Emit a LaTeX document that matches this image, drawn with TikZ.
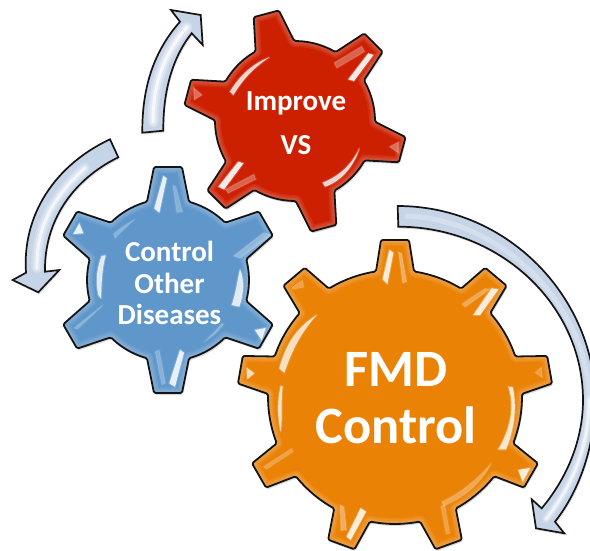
\documentclass[tikz,border=0pt]{standalone}
\usepackage{fontspec}
\setmainfont{Carlito}
\definecolor{gearred}{HTML}{CC2000}
\definecolor{gearblue}{HTML}{6097CB}
\definecolor{gearorange}{HTML}{EA8206}
\definecolor{arrowfill}{HTML}{C6D4E7}
\newcommand\addpol[3]{% angle, u, v ; uses \gcx \gcy
  \pgfmathsetmacro\gpx{\gcx+(#2)*cos(#1)-(#3)*sin(#1)}%
  \pgfmathsetmacro\gpy{\gcy+(#2)*sin(#1)+(#3)*cos(#1)}%
  \xdef\gp{\gp\ifx\gp\empty\else -- \fi(\gpx,\gpy)}%
}
\newcommand\buildgear[8]{% cx cy r R n t0 wt wb
  \gdef\gp{}%
  \def\gcx{#1}\def\gcy{#2}%
  \pgfmathsetmacro\gstep{360/#5}%
  \pgfmathsetmacro\gab{asin(#8/#3)}%
  \pgfmathsetmacro\gub{sqrt(#3*#3-#8*#8)}%
  \pgfmathtruncatemacro\gplast{#5-1}%
  \foreach \gi in {0,...,\gplast}{%
    \pgfmathsetmacro\ga{#6+\gi*\gstep}%
    \addpol{\ga}{\gub}{-#8}%
    \addpol{\ga}{#4}{-#7}%
    \addpol{\ga}{#4}{#7}%
    \addpol{\ga}{\gub}{#8}%
    \foreach \gj in {1,...,7}{%
      \pgfmathsetmacro\gs{\ga+\gab+(\gstep-2*\gab)*\gj/8}%
      \addpol{\gs}{#3}{0}%
    }%
  }%
  \xdef\gp{\gp -- cycle}%
}
\newcommand\glow{%
  \foreach \gw in {12,9,6,3}{\draw[white,opacity=.07,line width=\gw pt,line join=round] \gp;}%
}
\newcommand\hl[2]{%
  \draw[white,opacity=#1*.25,line width=2pt,line join=round] #2;
  \fill[white,opacity=#1] #2;
}
\tikzset{
  gearline/.style={draw=black!92,line width=1.8pt,line join=round,rounded corners=1.5pt},
  gearshadow/.style={fill=black,opacity=.14,rounded corners=1.5pt},
  arrowshape/.style={draw=black!92,line width=1.7pt,line join=miter,fill=arrowfill},
  gearlabel/.style={text=white,font=\bfseries,align=center,inner sep=0pt},
  zoomed/.style={x=.33333pt,y=-.33333pt}
}
\begin{document}
\begin{tikzpicture}[x=1pt,y=-1pt]
\useasboundingbox (0,0) rectangle (590,550);
% ---------- arrows
\def\arrowA{(142.3,132.7) .. controls (142,85) and (155,50) .. (180,21.7) -- (171,10) -- (200.7,15) -- (202.7,45) -- (191.7,33.3) .. controls (172,58) and (163,92) .. (163.3,130.7) -- cycle}
\def\arrowB{(110,139.3) .. controls (55,165) and (22,215) .. (26,272.7) -- (12.7,280) -- (38.3,292.3) -- (59.3,270) -- (45,271.7) .. controls (44,222) and (72,180) .. (118.3,157.3) -- cycle}
\def\arrowC{(397.7,206) .. controls (510,206) and (595,300) .. (595,400) .. controls (595,445) and (580,490) .. (555,521.7) -- (564.3,533.3) -- (536,528.3) -- (531.7,499.3) -- (541.7,508.3) .. controls (567,478) and (583,440) .. (583,400) .. controls (583,305) and (500,226.7) .. (398.3,226.7) -- cycle}
\foreach \ap in {\arrowA,\arrowB,\arrowC}{\fill[black,opacity=.12,shift={(1,2)}] \ap;}
\begin{scope}
  \clip \arrowA;
  \fill[arrowfill] \arrowA;
  \foreach \w/\o in {11/.25,7/.35,3/.7}{\draw[white,opacity=\o,line width=\w pt,line cap=round] (153,122) .. controls (153,85) and (163,55) .. (187,27);}
\end{scope}
\draw[arrowshape,fill=none] \arrowA;
\begin{scope}
  \clip \arrowB;
  \fill[arrowfill] \arrowB;
  \foreach \w/\o in {11/.2,7/.3,3/.65}{\draw[white,opacity=\o,line width=\w pt,line cap=round] (85,168) .. controls (55,195) and (36,225) .. (37,268);}
\end{scope}
\draw[arrowshape,fill=none] \arrowB;
\begin{scope}
  \clip \arrowC;
  \fill[arrowfill] \arrowC;
  \foreach \w/\o in {8/.2,5/.3,2.5/.6}{\draw[white,opacity=\o,line width=\w pt,line cap=round] (589,400) .. controls (589,445) and (573,485) .. (546,519);}
  \draw[white,opacity=.25,line width=5pt] (405,216) .. controls (500,218) and (589,305) .. (589,400);
\end{scope}
\draw[arrowshape,fill=none] \arrowC;
% ---------- blue gear
\buildgear{168}{280}{81}{113}{6}{-90}{14}{21}
\fill[gearshadow,shift={(1,2)}] \gp;
\begin{scope}
  \clip[rounded corners=1.5pt] \gp;
  \fill[gearblue] \gp;
  \glow
  \begin{scope}[shift={(0,130)},zoomed]
    \hl{.85}{(490,138) -- (500,145) -- (478,248) -- (463,235) -- cycle}
    \hl{.25}{(518,165) -- (528,170) -- (548,245) -- (530,248) -- cycle}
    \hl{.85}{(540,660) -- (552,668) -- (525,770) -- (508,760) -- cycle}
    \hl{.25}{(465,665) -- (478,660) -- (497,760) -- (485,765) -- cycle}
    \hl{.85}{(238,280) -- (250,310) -- (220,312) -- cycle}
    \hl{.85}{(765,600) -- (797,594) -- (785,630) -- cycle}
    \hl{.25}{(340,312) .. controls (360,295) and (380,280) .. (405,268) .. controls (385,285) and (365,305) .. (345,325) -- cycle}
    \hl{.8}{(305,378) -- (317,376) .. controls (305,420) and (305,460) .. (303,505) -- (295,495) .. controls (285,450) and (292,410) .. (305,378) -- cycle}
    \hl{.8}{(720,418) .. controls (735,450) and (730,495) .. (718,530) -- (695,525) .. controls (708,490) and (712,450) .. (720,418) -- cycle}
    \hl{.3}{(790,308) -- (815,315) -- (720,385) -- (700,378) -- cycle}
    \hl{.25}{(310,523) -- (300,535) -- (232,598) -- (222,594) -- cycle}
    \hl{.25}{(672,582) .. controls (655,605) and (635,622) .. (610,638) .. controls (630,618) and (650,600) .. (665,580) -- cycle}
  \end{scope}
\end{scope}
\draw[gearline] \gp;
% ---------- red gear
\buildgear{295}{121}{80}{111}{6}{-45}{13}{20}
\fill[gearshadow,shift={(1,2)}] \gp;
\begin{scope}
  \clip[rounded corners=1.5pt] \gp;
  \fill[gearred] \gp;
  \glow
  \begin{scope}[shift={(130,0)},zoomed]
    \hl{.8}{(300,275) .. controls (330,225) and (370,190) .. (418,172) .. controls (375,200) and (340,235) .. (310,285) -- cycle}
    \hl{.8}{(578,548) .. controls (625,530) and (665,495) .. (688,445) .. controls (672,500) and (632,545) .. (585,560) -- cycle}
    \hl{.9}{(715,160) -- (730,165) -- (672,243) -- (655,238) -- cycle}
    \hl{.3}{(695,138) -- (705,155) -- (620,205) -- (612,188) -- cycle}
    \hl{.9}{(325,485) -- (340,490) -- (282,568) -- (265,560) -- cycle}
    \hl{.3}{(372,522) -- (378,538) -- (295,580) -- (285,568) -- cycle}
    \hl{.35}{(190,262) -- (217,285) -- (192,300) -- cycle}
    \hl{.35}{(806,425) -- (778,440) -- (806,460) -- cycle}
  \end{scope}
\end{scope}
\draw[gearline] \gp;
% ---------- orange gear
\buildgear{395}{397}{127}{157}{9}{-90}{14}{19}
\fill[gearshadow,shift={(1,2)}] \gp;
\begin{scope}
  \clip[rounded corners=1.5pt] \gp;
  \fill[gearorange] \gp;
  \glow
  \begin{scope}[shift={(230,200)},zoomed]
    \hl{.75}{(148,505) .. controls (170,425) and (205,380) .. (260,345) .. controls (215,395) and (188,445) .. (163,518) -- cycle}
    \hl{.75}{(152,558) .. controls (142,600) and (142,650) .. (152,695) .. controls (158,650) and (152,600) .. (158,560) -- cycle}
    \hl{.8}{(835,560) .. controls (856,620) and (840,690) .. (805,748) -- (828,748) .. controls (852,690) and (862,620) .. (848,562) -- cycle}
    \hl{.3}{(635,905) .. controls (690,880) and (740,840) .. (785,788) .. controls (755,850) and (700,895) .. (640,918) -- cycle}
    \hl{.85}{(478,150) -- (490,158) -- (472,252) -- (458,238) -- cycle}
    \hl{.35}{(505,155) -- (515,160) -- (530,245) -- (518,250) -- cycle}
    \hl{.85}{(785,265) -- (805,268) -- (750,345) -- (730,345) -- cycle}
    \hl{.3}{(765,265) -- (780,268) -- (705,322) -- (695,312) -- cycle}
    \hl{.7}{(50,503) -- (73,520) -- (52,537) -- cycle}
    \hl{.25}{(185,262) -- (218,240) -- (222,262) -- (190,268) -- cycle}
    \hl{.25}{(935,500) -- (915,518) -- (938,535) -- cycle}
    \hl{.85}{(865,810) -- (900,804) -- (878,845) -- cycle}
    \hl{.25}{(100,800) -- (185,745) -- (190,755) -- (110,808) -- cycle}
    \hl{.35}{(330,915) -- (342,920) -- (350,990) -- (332,992) -- cycle}
    \hl{.85}{(392,925) -- (408,935) -- (362,1020) -- (350,1010) -- cycle}
    \hl{.25}{(632,918) -- (645,915) -- (660,1000) -- (648,1003) -- cycle}
  \end{scope}
\end{scope}
\draw[gearline] \gp;
% ---------- labels
\node[gearlabel,font=\bfseries\fontsize{29}{44}\selectfont] (improve) at (296,123) {Improve\\VS};
\node[gearlabel,font=\bfseries\fontsize{29}{31.5}\selectfont] (other) at (169.5,283) {Control\\Other\\Diseases};
\node[gearlabel,font=\bfseries\fontsize{52.5}{57}\selectfont] (fmd) at (396,398) {FMD\\Control};
\end{tikzpicture}
\end{document}
